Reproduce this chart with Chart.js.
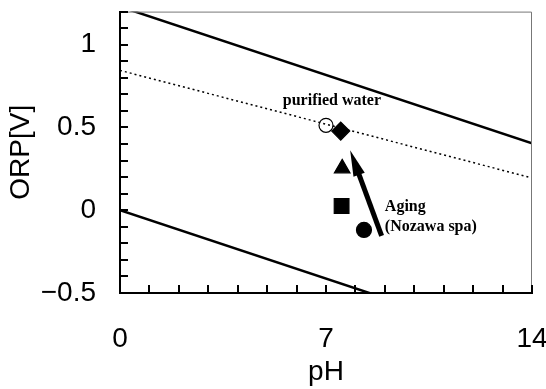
<!DOCTYPE html>
<html>
<head>
<meta charset="utf-8">
<script src="https://cdn.jsdelivr.net/npm/chart.js@4/dist/chart.umd.min.js"></script>
<style>
html,body{margin:0;padding:0;background:#fff;}
#wrap{width:546px;height:389px;position:relative;}
</style>
</head>
<body>
<div id="wrap"><canvas id="c"></canvas></div>
<script>
// ---- data ----
const upperLinePH = [0, 14];
const upperLineORP = [1.23, 0.404];
const lowerLinePH = [0, 14];
const lowerLineORP = [0, -0.826];
const dottedLinePH = [0, 14];
const dottedLineORP = [0.845, 0.195];

const samplePH  = [7.0, 7.5, 7.55, 7.53, 8.29];
const sampleORP = [0.513, 0.478, 0.253, 0.026, -0.119];

const arrowPH  = [8.89, 7.82];
const arrowORP = [-0.155, 0.362];

const xTickLabels = [0, 7, 14];
const yTickLabels = [-0.5, 0, 0.5, 1];

const annotationTexts = ['purified water', 'Aging', '(Nozawa spa)'];
const annotationPH  = [7.2, 9.0, 9.0];
const annotationORP = [0.633, -0.006, -0.127];

const toPts = (xs, ys) => xs.map((x, i) => ({x: x, y: ys[i]}));

const FONT = "'Liberation Sans', Arial, sans-serif";

const framePlugin = {
  id: 'frame',
  afterDraw(chart) {
    const ctx = chart.ctx;
    const a = chart.chartArea;
    const xs = chart.scales.x, ys = chart.scales.y;
    ctx.save();
    // top & right thin grey border
    ctx.strokeStyle = '#777';
    ctx.lineWidth = 1;
    ctx.beginPath();
    ctx.moveTo(a.left, a.top + 0.5);
    ctx.lineTo(a.right - 0.5, a.top + 0.5);
    ctx.lineTo(a.right - 0.5, a.bottom);
    ctx.stroke();
    // inward ticks
    ctx.strokeStyle = '#000';
    ctx.lineWidth = 2;
    ctx.beginPath();
    xs.ticks.forEach(t => {
      const px = Math.round(xs.getPixelForValue(t.value));
      ctx.moveTo(px, a.bottom);
      ctx.lineTo(px, a.bottom - 8);
    });
    ys.ticks.forEach(t => {
      const py = Math.round(ys.getPixelForValue(t.value));
      ctx.moveTo(a.left, py);
      ctx.lineTo(a.left + 8, py);
    });
    ctx.stroke();

    // arrow
    const x0 = xs.getPixelForValue(arrowPH[0]), y0 = ys.getPixelForValue(arrowORP[0]);
    const x1 = xs.getPixelForValue(arrowPH[1]), y1 = ys.getPixelForValue(arrowORP[1]);
    const dx = x1 - x0, dy = y1 - y0, len = Math.hypot(dx, dy);
    const ux = dx / len, uy = dy / len;
    const headLen = 26, headHalf = 6;
    const bx = x1 - ux * headLen, by = y1 - uy * headLen;
    ctx.strokeStyle = '#000';
    ctx.lineWidth = 5;
    ctx.lineCap = 'butt';
    ctx.beginPath();
    ctx.moveTo(x0, y0);
    ctx.lineTo(bx + ux * 2, by + uy * 2);
    ctx.stroke();
    ctx.fillStyle = '#000';
    ctx.beginPath();
    ctx.moveTo(x1, y1);
    ctx.lineTo(bx - uy * headHalf, by + ux * headHalf);
    ctx.lineTo(bx + uy * headHalf, by - ux * headHalf);
    ctx.closePath();
    ctx.fill();

    // annotations
    ctx.font = "bold 16px 'Liberation Serif', 'Times New Roman', serif";
    ctx.textBaseline = 'alphabetic';
    annotationTexts.forEach((txt, i) => {
      ctx.textAlign = i === 0 ? 'center' : 'left';
      ctx.fillText(txt, xs.getPixelForValue(annotationPH[i]), ys.getPixelForValue(annotationORP[i]));
    });
    ctx.restore();
  }
};

const lineDs = (pts, extra) => Object.assign({
  data: pts, showLine: true, pointRadius: 0, borderColor: '#000',
  borderWidth: 2.5, fill: false, tension: 0
}, extra);

const pointDs = (i, style, radius, fillCol) => ({
  data: [{x: samplePH[i], y: sampleORP[i]}],
  showLine: false, pointStyle: style, pointRadius: radius,
  pointBackgroundColor: fillCol, pointBorderColor: '#000', pointBorderWidth: 1.2
});

const zeroPad = s => { s.paddingTop = 0; s.paddingBottom = 0; s.paddingLeft = 0; s.paddingRight = 0; };

new Chart(document.getElementById('c'), {
  type: 'scatter',
  data: {
    datasets: [
      lineDs(toPts(upperLinePH, upperLineORP)),
      lineDs(toPts(lowerLinePH, lowerLineORP)),
      lineDs(toPts(dottedLinePH, dottedLineORP), {borderWidth: 1.5, borderDash: [2, 3]}),
      pointDs(0, 'circle', 7, '#fff'),
      pointDs(1, 'rectRot', 9, '#000'),
      pointDs(2, 'triangle', 9, '#000'),
      pointDs(3, 'rect', 10.4, '#000'),
      pointDs(4, 'circle', 7.5, '#000')
    ]
  },
  options: {
    responsive: true,
    maintainAspectRatio: false,
    animation: false,
    events: [],
    layout: {padding: {top: 11, right: 14, left: 0, bottom: 0}},
    plugins: {legend: {display: false}, tooltip: {enabled: false}},
    scales: {
      x: {
        type: 'linear', min: 0, max: 14,
        ticks: {
          stepSize: 1, autoSkip: false, maxRotation: 0, padding: 29,
          color: '#000', font: {family: FONT, size: 28},
          callback: v => xTickLabels.includes(v) ? String(v) : ''
        },
        grid: {display: true, drawOnChartArea: false, drawTicks: false, color: 'rgba(0,0,0,0)'},
        border: {display: true, color: '#000', width: 2},
        title: {display: true, text: 'pH', color: '#000', font: {family: FONT, size: 28}, padding: {top: 0, bottom: 0}},
        afterFit: s => { s.height = 96; zeroPad(s); }
      },
      y: {
        type: 'linear', min: -0.5, max: 1.2,
        ticks: {
          stepSize: 0.1, autoSkip: false, padding: 24,
          color: '#000', font: {family: FONT, size: 28},
          callback: v => {
            const m = yTickLabels.find(t => Math.abs(t - v) < 1e-6);
            if (m === undefined) return '';
            return m < 0 ? '\u2212' + Math.abs(m) : String(m);
          }
        },
        grid: {display: true, drawOnChartArea: false, drawTicks: false, color: 'rgba(0,0,0,0)'},
        border: {display: true, color: '#000', width: 2},
        title: {display: true, text: 'ORP[V]', color: '#000', font: {family: FONT, size: 28}, padding: {top: 4, bottom: 0}},
        afterFit: s => { s.width = 120; zeroPad(s); }
      }
    }
  },
  plugins: [framePlugin]
});
</script>
</body>
</html>
